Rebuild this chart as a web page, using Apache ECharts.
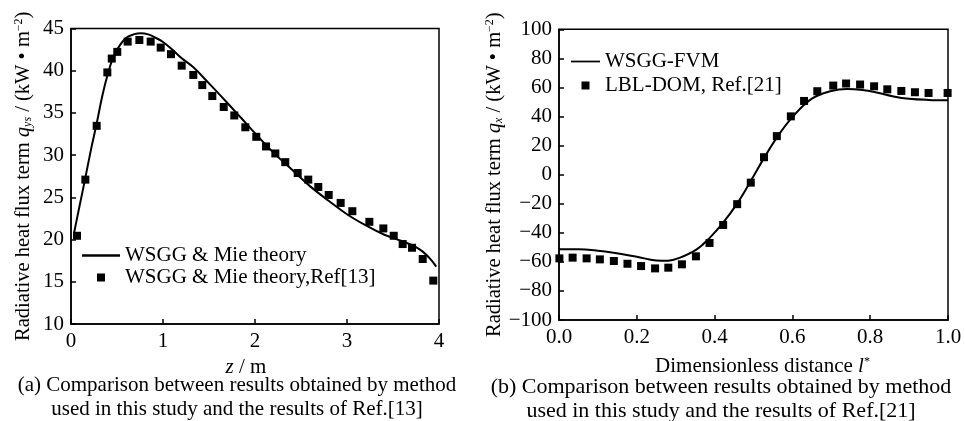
<!DOCTYPE html>
<html>
<head>
<meta charset="utf-8">
<script src="https://cdn.jsdelivr.net/npm/echarts@6/dist/echarts.min.js"></script>
<style>
html,body{margin:0;padding:0;background:#fff;}
#chart{width:965px;height:421px;}
</style>
</head>
<body>
<div id="chart"></div>
<script>
// ---- Panel (a) data ----
const aLineX = [0.03, 0.08, 0.15, 0.22, 0.28, 0.34, 0.40, 0.46, 0.53, 0.60, 0.68, 0.76, 0.84, 0.92, 1.00, 1.10, 1.20, 1.33, 1.50, 1.69, 1.85, 2.00, 2.20, 2.40, 2.60, 2.80, 3.00, 3.20, 3.40, 3.55, 3.65, 3.75, 3.82, 3.88, 3.93, 3.97];
const aLineY = [20.6, 23.3, 27.0, 30.8, 33.8, 37.0, 39.6, 41.6, 43.0, 43.9, 44.3, 44.45, 44.3, 43.9, 43.4, 42.5, 41.5, 40.4, 38.5, 36.3, 34.4, 32.6, 30.3, 28.3, 26.3, 24.6, 23.0, 21.7, 20.6, 20.0, 19.6, 19.1, 18.6, 18.0, 17.4, 16.8];
const aRefX = [0.065, 0.156, 0.279, 0.395, 0.443, 0.503, 0.616, 0.743, 0.866, 0.975, 1.087, 1.203, 1.329, 1.427, 1.536, 1.660, 1.775, 1.895, 2.014, 2.120, 2.221, 2.329, 2.464, 2.579, 2.688, 2.801, 2.931, 3.058, 3.243, 3.395, 3.508, 3.605, 3.707, 3.823, 3.938];
const aRefY = [20.45, 27.1, 33.47, 39.8, 41.44, 42.23, 43.45, 43.64, 43.45, 42.74, 41.96, 40.6, 39.5, 38.3, 37.0, 35.7, 34.7, 33.3, 32.17, 31.03, 30.2, 29.17, 27.88, 27.1, 26.23, 25.28, 24.34, 23.36, 22.1, 21.32, 20.45, 19.47, 19.03, 17.7, 15.14];
const aXTicks = [0, 1, 2, 3, 4];
const aYTicks = [10, 15, 20, 25, 30, 35, 40, 45];
const aLineName = 'WSGG & Mie theory';
const aRefName = 'WSGG & Mie theory,Ref[13]';

// ---- Panel (b) data ----
const bLineX = [0, 0.05, 0.10, 0.14, 0.20, 0.25, 0.28, 0.311, 0.354, 0.388, 0.422, 0.457, 0.491, 0.525, 0.56, 0.60, 0.65, 0.70, 0.74, 0.78, 0.82, 0.86, 0.90, 0.95, 1.0];
const bLineY = [-51.4, -51.4, -52.3, -53.7, -56.5, -59.0, -59.2, -57.1, -51.4, -43.3, -33.0, -20.3, -5.3, 10.5, 25.5, 39.6, 52.3, 57.6, 59.0, 58.3, 56.3, 53.8, 52.2, 51.4, 51.2];
const bRefX = [0.001, 0.035, 0.071, 0.105, 0.141, 0.176, 0.211, 0.247, 0.281, 0.316, 0.352, 0.387, 0.422, 0.458, 0.493, 0.527, 0.560, 0.596, 0.630, 0.664, 0.705, 0.738, 0.774, 0.810, 0.844, 0.880, 0.915, 0.950, 0.999];
const bRefY = [-57.6, -57.1, -57.6, -58.3, -59.4, -61.3, -62.9, -64.5, -64.0, -61.7, -56.2, -47.0, -34.6, -20.3, -5.5, 12.0, 26.5, 40.1, 50.7, 57.4, 61.3, 62.7, 62.0, 60.8, 58.7, 57.6, 56.7, 56.2, 56.2];
const bXTicks = [0, 0.2, 0.4, 0.6, 0.8, 1.0];
const bYTicks = [-100, -80, -60, -40, -20, 0, 20, 40, 60, 80, 100];
const bLineName = 'WSGG-FVM';
const bRefName = 'LBL-DOM, Ref.[21]';

const captionA = '(a) Comparison between results obtained by method\nused in this study and the results of Ref.[13]';
const captionB = '(b) Comparison between results obtained by method\nused in this study and the results of Ref.[21]';

const FF = '"Liberation Serif", "Times New Roman", serif';
const FS = 21;
const zip = (xs, ys) => xs.map((x, i) => [x, ys[i]]);

function richFor(size) {
  return {
    n: {fontFamily: FF, fontSize: size, color: '#000'},
    i: {fontFamily: FF, fontSize: size, fontStyle: 'italic', color: '#000'},
    sub: {fontFamily: FF, fontSize: 12, fontStyle: 'italic', color: '#000', verticalAlign: 'bottom'},
    sup: {fontFamily: FF, fontSize: 12, color: '#000', verticalAlign: 'top'}
  };
}

const LINE_ICON = 'path://M0,0h100v6h-100z';
const SQ_ICON = 'path://M0,0h10v10h-10z';

function valAxis(grid, min, max, interval, fmt, extra) {
  return Object.assign({
    type: 'value', gridIndex: grid, min: min, max: max, interval: interval,
    axisLine: {show: true, onZero: false, lineStyle: {color: '#000', width: 1.5}},
    axisTick: {show: true, inside: true, length: 5, lineStyle: {color: '#000', width: 1.5}},
    axisLabel: {color: '#000', fontFamily: FF, fontSize: FS, margin: 7, formatter: fmt},
    splitLine: {show: false}
  }, extra);
}
const minusFmt = v => String(v).replace('-', '\u2212');

const option = {
  backgroundColor: '#fff',
  animation: false,
  title: [
    {text: captionA, left: 232, top: 368, textAlign: 'center',
     textStyle: {fontFamily: FF, fontSize: FS, fontWeight: 'normal', color: '#000', lineHeight: 24}},
    {text: captionB, left: 716, top: 370, textAlign: 'center',
     textStyle: {fontFamily: FF, fontSize: 22, fontWeight: 'normal', color: '#000', lineHeight: 24}}
  ],
  legend: [
    {left: 77, top: 240, orient: 'vertical', itemWidth: 38, itemHeight: 8, itemGap: 1,
     selectedMode: false,
     textStyle: {fontFamily: FF, fontSize: FS, color: '#000'},
     data: [{name: aLineName, icon: LINE_ICON}, {name: aRefName, icon: SQ_ICON}]},
    {left: 566, top: 46, orient: 'vertical', itemWidth: 29, itemHeight: 8, itemGap: 3,
     selectedMode: false,
     textStyle: {fontFamily: FF, fontSize: FS, color: '#000'},
     data: [{name: bLineName, icon: LINE_ICON}, {name: bRefName, icon: SQ_ICON}]}
  ],
  grid: [
    {left: 71, top: 28.5, width: 368, height: 295.5, show: true, borderColor: '#000', borderWidth: 1.5, backgroundColor: 'transparent'},
    {left: 559, top: 29.3, width: 389, height: 290.7, show: true, borderColor: '#000', borderWidth: 1.5, backgroundColor: 'transparent'}
  ],
  xAxis: [
    valAxis(0, aXTicks[0], aXTicks[aXTicks.length - 1], 1, v => String(v), {
      name: '{i|z}{n| / m}', nameLocation: 'middle', nameGap: 26,
      nameTextStyle: {rich: richFor(FS), padding: [0, 18, 0, 0]}
    }),
    valAxis(1, bXTicks[0], bXTicks[bXTicks.length - 1], 0.2, v => v.toFixed(1), {
      name: '{n|Dimensionless distance }{i|l}{sup|*}', nameLocation: 'middle', nameGap: 36,
      nameTextStyle: {rich: richFor(FS), padding: [0, 0, 0, 18]}
    })
  ],
  yAxis: [
    valAxis(0, aYTicks[0], aYTicks[aYTicks.length - 1], 5, v => String(v), {
      name: '{n|Radiative heat flux term }{i|q}{sub|ys}{n| / (kW \u2022 m}{sup|\u22122}{n|)}',
      nameLocation: 'middle', nameRotate: 90, nameGap: 37,
      nameTextStyle: {rich: richFor(20.5)}
    }),
    valAxis(1, bYTicks[0], bYTicks[bYTicks.length - 1], 20, minusFmt, {
      name: '{n|Radiative heat flux term }{i|q}{sub|x}{n| / (kW \u2022 m}{sup|\u22122}{n|)}',
      nameLocation: 'middle', nameRotate: 90, nameGap: 47,
      nameTextStyle: {rich: richFor(20.5)}
    })
  ],
  series: [
    {name: aLineName, type: 'line', xAxisIndex: 0, yAxisIndex: 0, data: zip(aLineX, aLineY),
     smooth: 0.4, showSymbol: false, symbol: 'none', color: '#000',
     lineStyle: {color: '#000', width: 2}, itemStyle: {color: '#000'}, z: 3},
    {name: aRefName, type: 'scatter', xAxisIndex: 0, yAxisIndex: 0, data: zip(aRefX, aRefY),
     symbol: 'rect', symbolSize: 8, itemStyle: {color: '#000', opacity: 1}, z: 4},
    {name: bLineName, type: 'line', xAxisIndex: 1, yAxisIndex: 1, data: zip(bLineX, bLineY),
     smooth: 0.4, showSymbol: false, symbol: 'none', color: '#000',
     lineStyle: {color: '#000', width: 2}, itemStyle: {color: '#000'}, z: 3},
    {name: bRefName, type: 'scatter', xAxisIndex: 1, yAxisIndex: 1, data: zip(bRefX, bRefY),
     symbol: 'rect', symbolSize: 8, itemStyle: {color: '#000', opacity: 1}, z: 4}
  ]
};

const chart = echarts.init(document.getElementById('chart'), null, {renderer: 'canvas'});
chart.setOption(option);
</script>
</body>
</html>
